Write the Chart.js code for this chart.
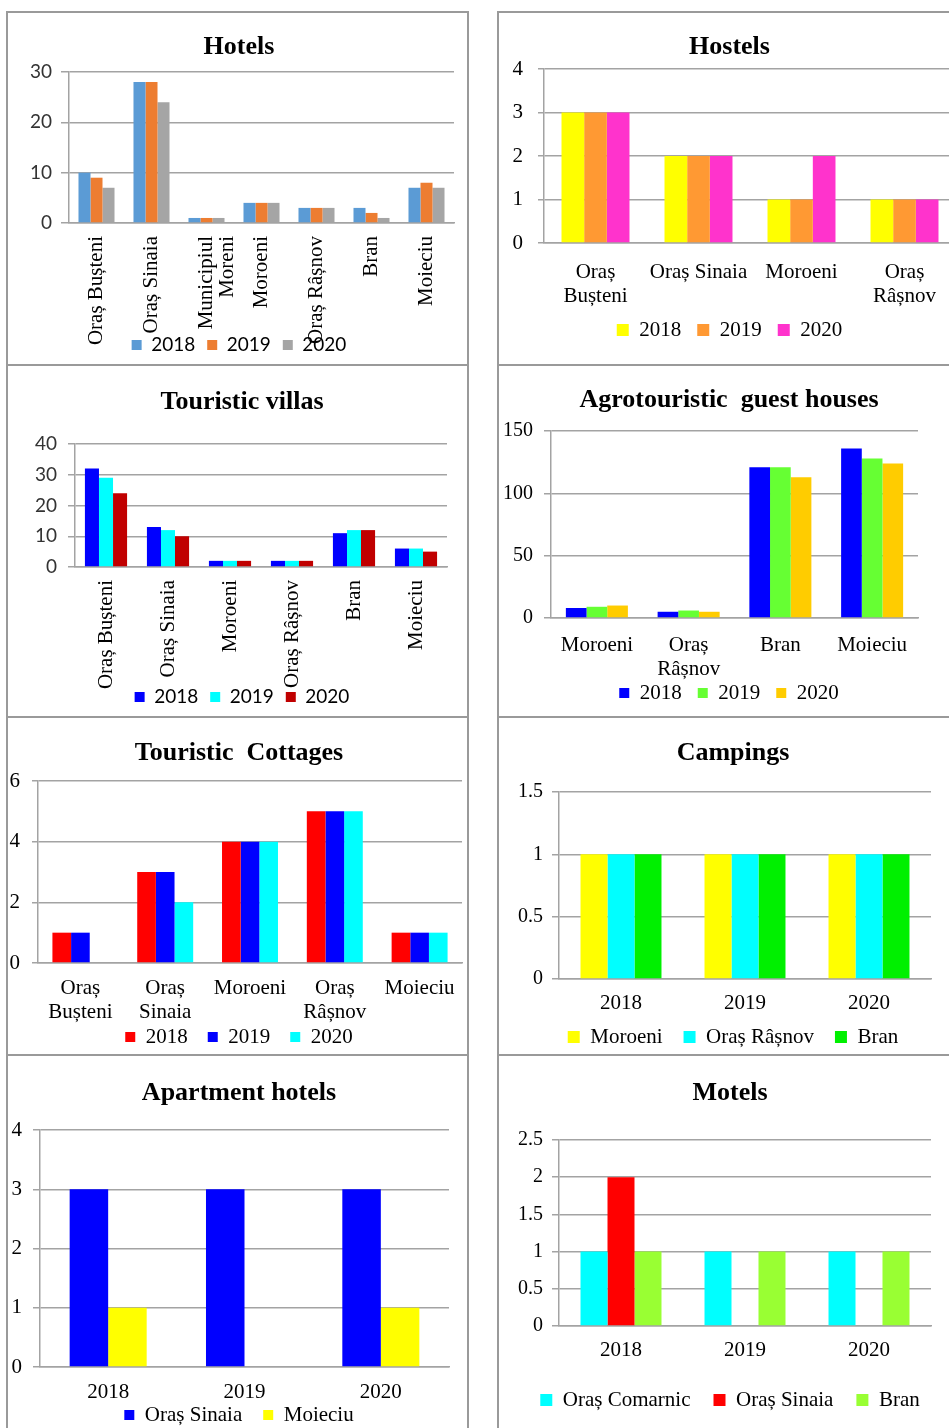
<!DOCTYPE html>
<html>
<head>
<meta charset="utf-8">
<script src="https://cdn.jsdelivr.net/npm/chart.js@4.4.1/dist/chart.umd.min.js"></script>
<style>
  html, body { margin: 0; padding: 0; background: #fff; width: 949px; height: 1428px; overflow: hidden; }
  .rule { position: absolute; background: #9a9a9a; }
  canvas { position: absolute; }
</style>
</head>
<body>
<script>
// ---- Accommodation counts by locality, 2018–2020 ----
const years = ['2018', '2019', '2020'];

// Hotels
const hotelPlaces = ['Oraș Bușteni', 'Oraș Sinaia', ['Municipiul', 'Moreni'], 'Moroeni', 'Oraș Râșnov', 'Bran', 'Moieciu'];
const hotels2018 = [10, 28, 1, 4, 3, 3, 7];
const hotels2019 = [9, 28, 1, 4, 3, 2, 8];
const hotels2020 = [7, 24, 1, 4, 3, 1, 7];
const hotelTicks = [0, 10, 20, 30];

// Hostels
const hostelPlaces = [['Oraș', 'Bușteni'], 'Oraș Sinaia', 'Moroeni', ['Oraș', 'Râșnov']];
const hostels2018 = [3, 2, 1, 1];
const hostels2019 = [3, 2, 1, 1];
const hostels2020 = [3, 2, 2, 1];
const hostelTicks = [0, 1, 2, 3, 4];

// Touristic villas
const villaPlaces = ['Oraș Bușteni', 'Oraș Sinaia', 'Moroeni', 'Oraș Râșnov', 'Bran', 'Moieciu'];
const villas2018 = [32, 13, 2, 2, 11, 6];
const villas2019 = [29, 12, 2, 2, 12, 6];
const villas2020 = [24, 10, 2, 2, 12, 5];
const villaTicks = [0, 10, 20, 30, 40];

// Agrotouristic guest houses
const agroPlaces = ['Moroeni', ['Oraș', 'Râșnov'], 'Bran', 'Moieciu'];
const agro2018 = [8, 5, 121, 136];
const agro2019 = [9, 6, 121, 128];
const agro2020 = [10, 5, 113, 124];
const agroTicks = [0, 50, 100, 150];

// Touristic cottages
const cottagePlaces = [['Oraș', 'Bușteni'], ['Oraș', 'Sinaia'], 'Moroeni', ['Oraș', 'Râșnov'], 'Moieciu'];
const cottages2018 = [1, 3, 4, 5, 1];
const cottages2019 = [1, 3, 4, 5, 1];
const cottages2020 = [0, 2, 4, 5, 1];
const cottageTicks = [0, 2, 4, 6];

// Campings (per year, by locality)
const campingMoroeni = [1, 1, 1];
const campingRasnov = [1, 1, 1];
const campingBran = [1, 1, 1];
const campingTicks = [0, 0.5, 1, 1.5];

// Apartment hotels (per year, by locality)
const aptSinaia = [3, 3, 3];
const aptMoieciu = [1, 0, 1];
const aptTicks = [0, 1, 2, 3, 4];

// Motels (per year, by locality)
const motelComarnic = [1, 1, 1];
const motelSinaia = [2, 0, 0];
const motelBran = [1, 1, 1];
const motelTicks = [0, 0.5, 1, 1.5, 2, 2.5];

// ---- Styling ----
const GRID = '#a3a3a3';
const SERIF = 'Liberation Serif';
const SANS = 'Lato';

// Panel frame rules
function rule(x, y, w, h) {
  const d = document.createElement('div');
  d.className = 'rule';
  d.style.left = x + 'px'; d.style.top = y + 'px';
  d.style.width = w + 'px'; d.style.height = h + 'px';
  document.body.appendChild(d);
}
[12, 365, 717, 1055].forEach(y => { rule(6, y - 1, 463, 2); rule(497, y - 1, 460, 2); });
[7, 468, 498].forEach(x => rule(x - 1, 11, 2, 1430));

function drawPanel(p) {
  const [cl, ct, cw, ch] = p.box;
  const cv = document.createElement('canvas');
  cv.width = cw; cv.height = ch;
  cv.style.left = cl + 'px'; cv.style.top = ct + 'px';
  document.body.appendChild(cv);

  const itemH = Math.max(p.legendFont.size, p.boxSize);
  const padBottom = ct + ch - p.legendY - 10 - itemH / 2;
  const xAxisH = p.legendY - itemH / 2 - p.legendGap - p.plot.bottom;
  const yAxisW = p.plot.left - cl;
  const rightW = cl + cw - p.plot.right;
  const ticks = p.ticks;

  new Chart(cv, {
    type: 'bar',
    data: {
      labels: p.labels,
      datasets: p.series.map(s => ({
        label: s.name, data: s.values, backgroundColor: s.color,
        borderWidth: 0, categoryPercentage: p.groupWidth, barPercentage: 1
      }))
    },
    options: {
      responsive: false, animation: false, devicePixelRatio: 1,
      layout: { padding: { top: 0, left: 0, right: 0, bottom: padBottom } },
      plugins: {
        title: {
          display: true, text: p.title, color: '#000',
          font: { family: SERIF, size: 26, weight: 'bold', lineHeight: 1 },
          padding: { top: p.titleY - ct - 13, bottom: p.plot.top - p.titleY - 13 }
        },
        legend: {
          position: 'bottom',
          labels: { boxWidth: p.boxSize, boxHeight: p.boxSize, padding: p.legendGap, color: '#000', font: p.legendFont }
        },
        tooltip: { enabled: false }
      },
      scales: {
        x: {
          grid: { display: false, drawTicks: false },
          border: { display: true, color: GRID, width: 1.5 },
          ticks: {
            autoSkip: false, minRotation: p.rot, maxRotation: p.rot, padding: p.xPad, color: '#000',
            font: { family: SERIF, size: 21, lineHeight: p.rot ? 1 : 1.15 }
          },
          afterFit: s => {
            s.height = xAxisH;
            // category names may run past the axis band, so keep them unclipped
            s._computeLabelArea = () => null;
          }
        },
        y: {
          min: ticks[0], max: ticks[ticks.length - 1],
          ticks: {
            stepSize: ticks[1] - ticks[0], padding: p.yPad, color: p.yColor || '#000', font: p.yFont,
            callback: v => String(Math.round(v * 100) / 100)
          },
          grid: { color: GRID, lineWidth: 1.5, drawTicks: true, tickLength: p.tick },
          border: { display: true, color: GRID, width: 1.5 },
          afterFit: s => { s.width = yAxisW; }
        },
        yr: {
          type: 'linear', position: 'right', display: true,
          grid: { display: false }, border: { display: false }, ticks: { display: false },
          afterFit: s => { s.width = rightW; }
        }
      }
    }
  });
}

// Hotels
drawPanel({
  title: 'Hotels', labels: hotelPlaces, ticks: hotelTicks,
  series: [
    { name: years[0], values: hotels2018, color: '#5B9BD5' },
    { name: years[1], values: hotels2019, color: '#ED7D31' },
    { name: years[2], values: hotels2020, color: '#A5A5A5' }
  ],
  box: [9, 14, 460, 353], plot: { left: 69, right: 454, top: 72, bottom: 223 },
  titleY: 47, legendY: 345, boxSize: 10, legendGap: 12,
  legendFont: { family: SANS, size: 19 }, yFont: { family: SANS, size: 19 }, yColor: '#333',
  rot: 90, xPad: 13, yPad: 9, tick: 8, groupWidth: 0.655
});

// Hostels
drawPanel({
  title: 'Hostels', labels: hostelPlaces, ticks: hostelTicks,
  series: [
    { name: years[0], values: hostels2018, color: '#FFFF00' },
    { name: years[1], values: hostels2019, color: '#FF9933' },
    { name: years[2], values: hostels2020, color: '#FF33CC' }
  ],
  box: [500, 14, 459, 339], plot: { left: 544, right: 956, top: 69, bottom: 243 },
  titleY: 47, legendY: 330, boxSize: 12, legendGap: 16,
  legendFont: { family: SERIF, size: 21 }, yFont: { family: SERIF, size: 21 },
  rot: 0, xPad: 17, yPad: 15, tick: 6, groupWidth: 0.66
});

// Touristic villas
drawPanel({
  title: 'Touristic villas', labels: villaPlaces, ticks: villaTicks,
  series: [
    { name: years[0], values: villas2018, color: '#0000FF' },
    { name: years[1], values: villas2019, color: '#00FFFF' },
    { name: years[2], values: villas2020, color: '#C00000' }
  ],
  box: [9, 367, 466, 352], plot: { left: 75, right: 447, top: 444, bottom: 567 },
  titleY: 402, legendY: 697, boxSize: 10, legendGap: 12,
  legendFont: { family: SANS, size: 19 }, yFont: { family: SANS, size: 19 }, yColor: '#333',
  rot: 90, xPad: 13, yPad: 11, tick: 7, groupWidth: 0.68
});

// Agrotouristic guest houses
drawPanel({
  title: 'Agrotouristic  guest houses', labels: agroPlaces, ticks: agroTicks,
  series: [
    { name: years[0], values: agro2018, color: '#0000FF' },
    { name: years[1], values: agro2019, color: '#66FF33' },
    { name: years[2], values: agro2020, color: '#FFCC00' }
  ],
  box: [500, 367, 458, 349], plot: { left: 551, right: 918, top: 431, bottom: 618 },
  titleY: 400, legendY: 693, boxSize: 10, legendGap: 16,
  legendFont: { family: SERIF, size: 21 }, yFont: { family: SERIF, size: 20 },
  rot: 0, xPad: 15, yPad: 11, tick: 7, groupWidth: 0.676
});

// Touristic cottages
drawPanel({
  title: 'Touristic  Cottages', labels: cottagePlaces, ticks: cottageTicks,
  series: [
    { name: years[0], values: cottages2018, color: '#FF0000' },
    { name: years[1], values: cottages2019, color: '#0000FF' },
    { name: years[2], values: cottages2020, color: '#00FFFF' }
  ],
  box: [9, 719, 460, 341], plot: { left: 38, right: 462, top: 781, bottom: 963 },
  titleY: 753, legendY: 1037, boxSize: 10, legendGap: 20,
  legendFont: { family: SERIF, size: 21 }, yFont: { family: SERIF, size: 21 },
  rot: 0, xPad: 13, yPad: 12, tick: 6, groupWidth: 0.66
});

// Campings
drawPanel({
  title: 'Campings', labels: years, ticks: campingTicks,
  series: [
    { name: 'Moroeni', values: campingMoroeni, color: '#FFFF00' },
    { name: 'Oraș Râșnov', values: campingRasnov, color: '#00FFFF' },
    { name: 'Bran', values: campingBran, color: '#00F000' }
  ],
  box: [500, 719, 466, 341], plot: { left: 559, right: 931, top: 792, bottom: 979 },
  titleY: 753, legendY: 1037, boxSize: 12, legendGap: 21,
  legendFont: { family: SERIF, size: 21 }, yFont: { family: SERIF, size: 20 },
  rot: 0, xPad: 12, yPad: 9, tick: 7, groupWidth: 0.653
});

// Apartment hotels
drawPanel({
  title: 'Apartment hotels', labels: years, ticks: aptTicks,
  series: [
    { name: 'Oraș Sinaia', values: aptSinaia, color: '#0000FF' },
    { name: 'Moieciu', values: aptMoieciu, color: '#FFFF00' }
  ],
  box: [9, 1057, 460, 381], plot: { left: 40, right: 449, top: 1130, bottom: 1367 },
  titleY: 1093, legendY: 1415, boxSize: 10, legendGap: 21,
  legendFont: { family: SERIF, size: 21 }, yFont: { family: SERIF, size: 21 },
  rot: 0, xPad: 13, yPad: 11, tick: 7, groupWidth: 0.565
});

// Motels
drawPanel({
  title: 'Motels', labels: years, ticks: motelTicks,
  series: [
    { name: 'Oraș Comarnic', values: motelComarnic, color: '#00FFFF' },
    { name: 'Oraș Sinaia', values: motelSinaia, color: '#FF0000' },
    { name: 'Bran', values: motelBran, color: '#99FF33' }
  ],
  box: [500, 1057, 460, 366], plot: { left: 559, right: 931, top: 1140, bottom: 1326 },
  titleY: 1093, legendY: 1400, boxSize: 12, legendGap: 23,
  legendFont: { family: SERIF, size: 21 }, yFont: { family: SERIF, size: 20 },
  rot: 0, xPad: 12, yPad: 9, tick: 7, groupWidth: 0.653
});
</script>
</body>
</html>
